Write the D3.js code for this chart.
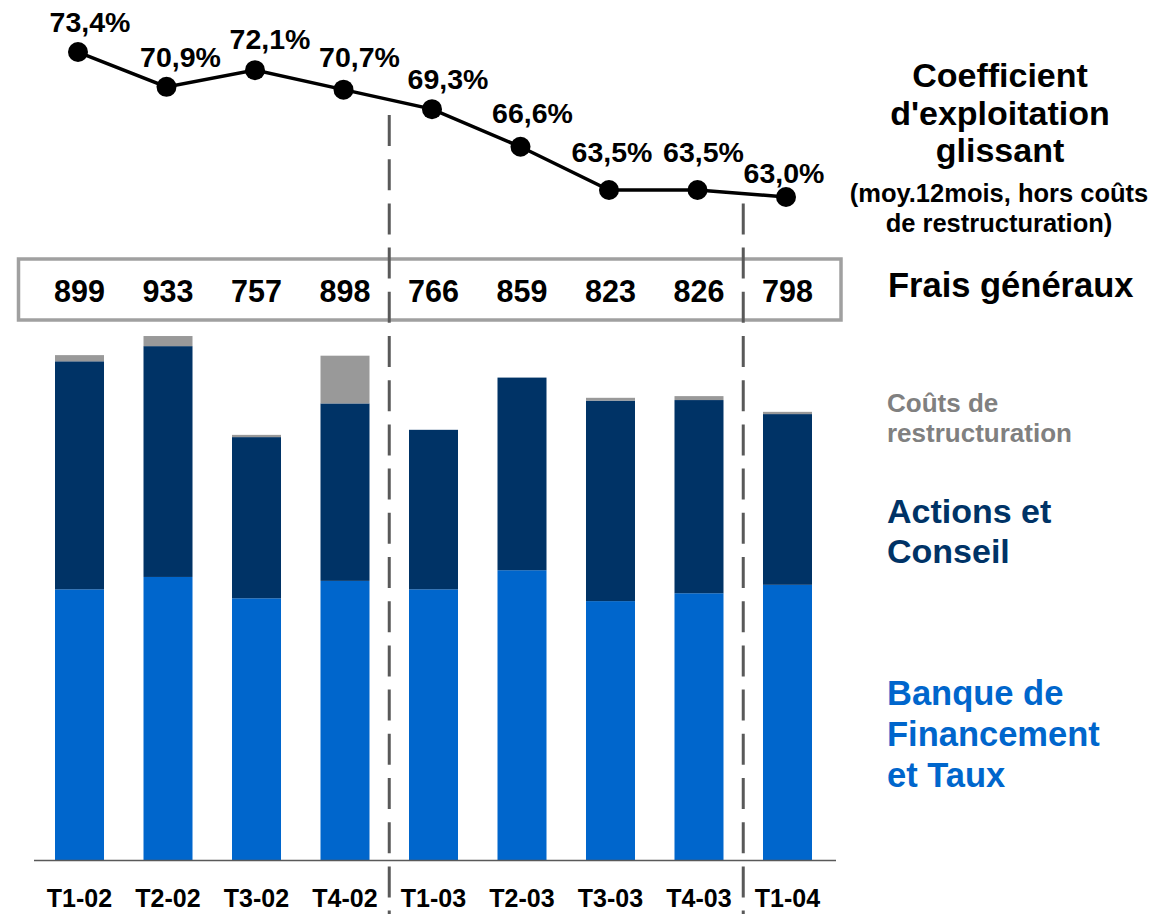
<!DOCTYPE html>
<html>
<head>
<meta charset="utf-8">
<script src="https://cdn.jsdelivr.net/npm/d3@7"></script>
<style>
  html, body { margin: 0; padding: 0; background: #fff; }
  svg { display: block; }
  text { font-family: "Liberation Sans", Arial, sans-serif; font-weight: bold; }
</style>
</head>
<body>
<svg id="chart" width="1150" height="914"></svg>
<script>
// ---- Data ----
const categories = ["T1-02", "T2-02", "T3-02", "T4-02", "T1-03", "T2-03", "T3-03", "T4-03", "T1-04"];
const banqueFinancement = [482, 504, 466, 497, 482, 516, 461, 475, 490];
const actionsConseil   = [406, 411, 287, 316, 284, 343, 357, 344, 304];
const coutsRestructuration = [11, 18, 4, 85, 0, 0, 5, 7, 4];
const fraisGeneraux = [899, 933, 757, 898, 766, 859, 823, 826, 798];
const coefficient = [73.4, 70.9, 72.1, 70.7, 69.3, 66.6, 63.5, 63.5, 63.0];
const separatorsAfter = ["T4-02", "T4-03"];

// ---- Layout ----
const svg = d3.select("#chart");
const baseY = 860;
const fmtPct = v => d3.format(".1f")(v).replace(".", ",") + "%";

const x = d3.scaleBand().domain(categories).range([35.25, 831.75])
  .paddingInner(0.4463).paddingOuter(0.2232);
const yBar = d3.scaleLinear().domain([0, 860 / 0.5616]).range([baseY, 0]);
const yLine = d3.scaleLinear().domain([60, 75]).range([238.8, 29.7]);
const cx = c => x(c) + x.bandwidth() / 2;

const colors = { bft: "#0066CC", ac: "#003366", rc: "#999999" };

// stacked bars
const rows = categories.map((c, i) => ({
  cat: c, bft: banqueFinancement[i], ac: actionsConseil[i], rc: coutsRestructuration[i]
}));
const stack = d3.stack().keys(["bft", "ac", "rc"])(rows);
svg.append("g").selectAll("g").data(stack).join("g")
  .attr("fill", d => colors[d.key])
  .selectAll("rect").data(d => d).join("rect")
  .attr("x", d => x(d.data.cat))
  .attr("width", x.bandwidth())
  .attr("y", d => yBar(d[1]))
  .attr("height", d => Math.max(0, yBar(d[0]) - yBar(d[1])));

// x axis
const axis = svg.append("g").attr("transform", `translate(0,${baseY})`)
  .call(d3.axisBottom(x).tickSize(0).tickPadding(0));
axis.select(".domain").attr("d", "M34,0.5H836").attr("stroke", "#595959").attr("stroke-width", 1.5);
axis.selectAll(".tick text")
  .attr("y", 47).attr("dy", 0)
  .attr("font-size", 25).attr("font-family", "Liberation Sans, Arial, sans-serif")
  .attr("font-weight", "bold").attr("fill", "#000");

// Frais généraux box
svg.append("rect").attr("x", 18.5).attr("y", 259).attr("width", 822.5).attr("height", 61)
  .attr("fill", "none").attr("stroke", "#a0a0a0").attr("stroke-width", 3.5);
svg.append("g").selectAll("text").data(fraisGeneraux).join("text")
  .attr("x", (d, i) => cx(categories[i]))
  .attr("y", 302)
  .attr("text-anchor", "middle")
  .attr("font-size", 30.5)
  .attr("fill", "#000")
  .text(d => d);

// separators
const sepTop = [115, 203.4];
separatorsAfter.forEach((c, k) => {
  const i = categories.indexOf(c);
  const xs = (cx(categories[i]) + cx(categories[i + 1])) / 2;
  svg.append("line").attr("x1", xs).attr("x2", xs)
    .attr("y1", sepTop[k]).attr("y2", 914)
    .attr("stroke", "#595959").attr("stroke-width", 3)
    .attr("stroke-dasharray", "31,13.2");
});

// line
const line = d3.line().x((d, i) => cx(categories[i]) - 1.5).y(d => yLine(d));
svg.append("path").datum(coefficient).attr("d", line)
  .attr("fill", "none").attr("stroke", "#000").attr("stroke-width", 3.5);
svg.append("g").selectAll("circle").data(coefficient).join("circle")
  .attr("cx", (d, i) => cx(categories[i]) - 1.5)
  .attr("cy", d => yLine(d))
  .attr("r", 10).attr("fill", "#000");

const labelDx = [12, 14, 15, 16, 16, 12, 3, 6, -2];
const labelDy = [-20, -20, -21, -23, -20, -24, -28, -28, -14];
svg.append("g").selectAll("text").data(coefficient).join("text")
  .attr("x", (d, i) => cx(categories[i]) - 1.5 + labelDx[i])
  .attr("y", (d, i) => yLine(d) + labelDy[i])
  .attr("text-anchor", "middle")
  .attr("font-size", 28.5)
  .attr("fill", "#000")
  .text(d => fmtPct(d));

// Legends / annotations
function lines(arr, xPos, ys, size, color, anchor) {
  arr.forEach((t, i) => {
    svg.append("text").attr("x", xPos).attr("y", ys[i])
      .attr("text-anchor", anchor).attr("font-size", size).attr("fill", color).text(t);
  });
}
lines(["Coefficient", "d'exploitation", "glissant"], 1000, [87, 125, 162], 34, "#000", "middle");
lines(["(moy.12mois, hors coûts", "de restructuration)"], 999, [202, 232], 25.5, "#000", "middle");
lines(["Frais généraux"], 888, [297], 34.5, "#000", "start");
lines(["Coûts de", "restructuration"], 887, [412, 442], 26, "#808080", "start");
lines(["Actions et", "Conseil"], 887, [523, 563], 34, "#003366", "start");
lines(["Banque de", "Financement", "et Taux"], 887, [705, 746, 787], 34.5, "#0066CC", "start");
</script>
</body>
</html>
